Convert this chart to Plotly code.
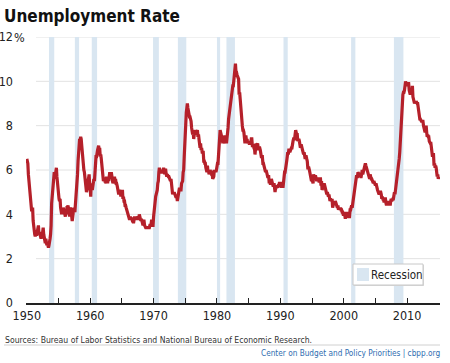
import pandas as pd
import plotly.graph_objects as go

# ---------------- data ----------------
rate_1950s = [6.5, 6.4, 6.3, 5.8, 5.5, 5.4, 5.0, 4.5, 4.4, 4.2, 4.2, 4.3,
              3.7, 3.4, 3.4, 3.1, 3.0, 3.2, 3.1, 3.1, 3.3, 3.5, 3.5, 3.1,
              3.2, 3.1, 2.9, 2.9, 3.0, 3.0, 3.2, 3.4, 3.1, 3.0, 2.8, 2.7,
              2.9, 2.6, 2.6, 2.7, 2.5, 2.5, 2.6, 2.7, 2.9, 3.1, 3.5, 4.5,
              4.9, 5.2, 5.7, 5.9, 5.9, 5.6, 5.8, 6.0, 6.1, 5.7, 5.3, 5.0,
              4.9, 4.7, 4.6, 4.7, 4.3, 4.2, 4.0, 4.2, 4.1, 4.3, 4.2, 4.2,
              4.0, 3.9, 4.2, 4.0, 4.3, 4.3, 4.4, 4.1, 3.9, 3.9, 4.3, 4.2,
              4.2, 3.9, 3.7, 3.9, 4.1, 4.3, 4.2, 4.1, 4.4, 4.5, 5.1, 5.2,
              5.8, 6.4, 6.7, 7.4, 7.4, 7.3, 7.5, 7.4, 7.1, 6.7, 6.2, 6.2,
              6.0, 5.9, 5.6, 5.2, 5.1, 5.0, 5.1, 5.2, 5.5, 5.7, 5.8, 5.3]
rate_1960s = [5.2, 4.8, 5.4, 5.2, 5.1, 5.4, 5.5, 5.6, 5.5, 6.1, 6.1, 6.6,
              6.6, 6.9, 6.9, 7.0, 7.1, 6.9, 7.0, 6.6, 6.7, 6.5, 6.1, 6.0,
              5.8, 5.5, 5.6, 5.6, 5.5, 5.5, 5.4, 5.7, 5.6, 5.4, 5.7, 5.5,
              5.7, 5.9, 5.7, 5.7, 5.9, 5.6, 5.6, 5.4, 5.5, 5.5, 5.7, 5.5,
              5.6, 5.4, 5.4, 5.3, 5.1, 5.2, 4.9, 5.0, 5.1, 5.1, 4.8, 5.0,
              4.9, 5.1, 4.7, 4.8, 4.6, 4.6, 4.4, 4.4, 4.3, 4.2, 4.1, 4.0,
              4.0, 3.8, 3.8, 3.8, 3.9, 3.8, 3.8, 3.8, 3.7, 3.7, 3.6, 3.8,
              3.9, 3.8, 3.8, 3.8, 3.8, 3.9, 3.8, 3.8, 3.8, 4.0, 3.9, 3.8,
              3.7, 3.8, 3.7, 3.5, 3.5, 3.7, 3.7, 3.5, 3.4, 3.4, 3.4, 3.4,
              3.4, 3.4, 3.4, 3.4, 3.4, 3.5, 3.5, 3.5, 3.7, 3.7, 3.5, 3.5]
rate_1970s = [3.9, 4.2, 4.4, 4.6, 4.8, 4.9, 5.0, 5.1, 5.4, 5.5, 5.9, 6.1,
              5.9, 5.9, 6.0, 5.9, 5.9, 5.9, 6.0, 6.1, 6.0, 5.8, 6.0, 6.0,
              5.8, 5.7, 5.8, 5.7, 5.7, 5.7, 5.6, 5.6, 5.5, 5.6, 5.3, 5.2,
              4.9, 5.0, 4.9, 5.0, 4.9, 4.9, 4.8, 4.8, 4.8, 4.6, 4.8, 4.9,
              5.1, 5.2, 5.1, 5.1, 5.1, 5.4, 5.5, 5.5, 5.9, 6.0, 6.6, 7.2,
              8.1, 8.1, 8.6, 8.8, 9.0, 8.8, 8.6, 8.4, 8.4, 8.4, 8.3, 8.2,
              7.9, 7.7, 7.6, 7.7, 7.4, 7.6, 7.8, 7.8, 7.6, 7.7, 7.8, 7.8,
              7.5, 7.6, 7.4, 7.2, 7.0, 7.2, 6.9, 7.0, 6.8, 6.8, 6.8, 6.4,
              6.4, 6.3, 6.3, 6.1, 6.0, 5.9, 6.2, 5.9, 6.0, 5.8, 5.9, 6.0,
              5.9, 5.9, 5.8, 5.8, 5.6, 5.7, 5.7, 6.0, 5.9, 6.0, 5.9, 6.0]
rate_1980s = [6.3, 6.3, 6.3, 6.9, 7.5, 7.6, 7.8, 7.7, 7.5, 7.5, 7.5, 7.2,
              7.5, 7.4, 7.4, 7.2, 7.5, 7.5, 7.2, 7.4, 7.6, 7.9, 8.3, 8.5,
              8.6, 8.9, 9.0, 9.3, 9.4, 9.6, 9.8, 9.8, 10.1, 10.4, 10.8, 10.8,
              10.4, 10.4, 10.3, 10.2, 10.1, 10.1, 9.4, 9.5, 9.2, 8.8, 8.5, 8.3,
              8.0, 7.8, 7.8, 7.7, 7.4, 7.2, 7.5, 7.5, 7.3, 7.4, 7.2, 7.3,
              7.3, 7.2, 7.2, 7.3, 7.2, 7.4, 7.4, 7.1, 7.1, 7.1, 7.0, 7.0,
              6.7, 7.2, 7.2, 7.1, 7.2, 7.2, 7.0, 6.9, 7.0, 7.0, 6.9, 6.6,
              6.6, 6.6, 6.6, 6.3, 6.3, 6.2, 6.1, 6.0, 5.9, 6.0, 5.8, 5.7,
              5.7, 5.7, 5.7, 5.4, 5.6, 5.4, 5.4, 5.6, 5.4, 5.4, 5.3, 5.3,
              5.4, 5.2, 5.0, 5.2, 5.2, 5.3, 5.2, 5.2, 5.3, 5.3, 5.4, 5.4]
rate_1990s = [5.4, 5.3, 5.2, 5.4, 5.4, 5.2, 5.5, 5.7, 5.9, 5.9, 6.2, 6.3,
              6.4, 6.6, 6.8, 6.7, 6.9, 6.9, 6.8, 6.9, 6.9, 7.0, 7.0, 7.3,
              7.3, 7.4, 7.4, 7.4, 7.6, 7.8, 7.7, 7.6, 7.6, 7.3, 7.4, 7.4,
              7.3, 7.1, 7.0, 7.1, 7.1, 7.0, 6.9, 6.8, 6.7, 6.8, 6.6, 6.5,
              6.6, 6.6, 6.5, 6.4, 6.1, 6.1, 6.1, 6.0, 5.9, 5.8, 5.6, 5.5,
              5.6, 5.4, 5.4, 5.8, 5.6, 5.6, 5.7, 5.7, 5.6, 5.5, 5.6, 5.6,
              5.6, 5.5, 5.5, 5.6, 5.6, 5.3, 5.5, 5.1, 5.2, 5.2, 5.4, 5.4,
              5.3, 5.2, 5.2, 5.1, 4.9, 5.0, 4.9, 4.8, 4.9, 4.7, 4.6, 4.7,
              4.6, 4.6, 4.7, 4.3, 4.4, 4.5, 4.5, 4.5, 4.6, 4.5, 4.4, 4.4,
              4.3, 4.4, 4.2, 4.3, 4.2, 4.3, 4.3, 4.2, 4.2, 4.1, 4.1, 4.0]
rate_2000s = [4.0, 4.1, 4.0, 3.8, 4.0, 4.0, 4.0, 4.1, 3.9, 3.9, 3.9, 3.9,
              4.2, 4.2, 4.3, 4.4, 4.3, 4.5, 4.6, 4.9, 5.0, 5.3, 5.5, 5.7,
              5.7, 5.7, 5.7, 5.9, 5.8, 5.8, 5.8, 5.7, 5.7, 5.7, 5.9, 6.0,
              5.8, 5.9, 5.9, 6.0, 6.1, 6.3, 6.2, 6.1, 6.1, 6.0, 5.8, 5.7,
              5.7, 5.6, 5.8, 5.6, 5.6, 5.6, 5.5, 5.4, 5.4, 5.5, 5.4, 5.4,
              5.3, 5.4, 5.2, 5.2, 5.1, 5.0, 5.0, 4.9, 5.0, 5.0, 5.0, 4.9,
              4.7, 4.8, 4.7, 4.7, 4.6, 4.6, 4.7, 4.7, 4.5, 4.4, 4.5, 4.4,
              4.6, 4.5, 4.4, 4.5, 4.4, 4.6, 4.7, 4.6, 4.7, 4.7, 4.7, 5.0,
              5.0, 4.9, 5.1, 5.0, 5.4, 5.6, 5.8, 6.1, 6.1, 6.5, 6.8, 7.3,
              7.8, 8.3, 8.7, 9.0, 9.4, 9.5, 9.5, 9.6, 9.8, 10.0, 9.9, 9.9]
rate_2010s = [9.8, 9.8, 9.9, 9.9, 9.6, 9.4, 9.4, 9.5, 9.5, 9.4, 9.8, 9.3,
              9.1, 9.0, 9.0, 9.1, 9.0, 9.1, 9.0, 9.0, 9.0, 8.8, 8.6, 8.5,
              8.3, 8.3, 8.2, 8.2, 8.2, 8.2, 8.2, 8.0, 7.8, 7.8, 7.7, 7.9,
              8.0, 7.7, 7.5, 7.6, 7.5, 7.5, 7.3, 7.2, 7.2, 7.2, 6.9, 6.7,
              6.6, 6.7, 6.7, 6.2, 6.3, 6.1, 6.2, 6.1, 5.9, 5.7, 5.8, 5.6,
              5.7]

recession_start = ["1953-07-01", "1957-08-01", "1960-04-01", "1969-12-01", "1973-11-01",
                   "1980-01-01", "1981-07-01", "1990-07-01", "2001-03-01", "2007-12-01"]
recession_end = ["1954-05-01", "1958-04-01", "1961-02-01", "1970-11-01", "1975-03-01",
                 "1980-07-01", "1982-11-01", "1991-03-01", "2001-11-01", "2009-06-01"]

y_tick_values = [0, 2, 4, 6, 8, 10, 12]
y_tick_labels = ["0", "2", "4", "6", "8", "10", "12"]
x_tick_years = [1950, 1955, 1960, 1965, 1970, 1975, 1980, 1985, 1990, 1995, 2000, 2005, 2010]
x_tick_labels = ["1950", "", "1960", "", "1970", "", "1980", "", "1990", "", "2000", "", "2010"]

rate = rate_1950s + rate_1960s + rate_1970s + rate_1980s + rate_1990s + rate_2000s + rate_2010s
dates = pd.date_range("1950-01-01", periods=len(rate), freq="MS")

# ---------------- layout helpers ----------------
W, H = 450, 363
L, R, T, B = 26, 10, 37, 60
PW, PH = W - L - R, H - T - B


def px(x):
    return (x - L) / PW


def py(y):
    return (H - B - y) / PH


FONT = "DejaVu Sans"
BAND = "#d9e6f1"
LINE = "#b5202a"


def f(size, color="#222", weight="normal"):
    return dict(family=FONT, size=size, color=color, weight=weight)


def cond(t):
    return f"<span style='font-stretch:condensed'>{t}</span>" if t else t


fig = go.Figure()
fig.add_trace(go.Scatter(x=dates, y=rate, mode="lines",
                         line=dict(color=LINE, width=3.2), showlegend=False,
                         hoverinfo="skip"))

shapes = []
for v in y_tick_values[1:]:
    shapes.append(dict(type="line", xref="paper", yref="y", x0=px(36), x1=1,
                       y0=v, y1=v, line=dict(color="#e2e2e2", width=1), layer="below"))
for s, e in zip(recession_start, recession_end):
    shapes.append(dict(type="rect", xref="x", yref="y", x0=s, x1=e, y0=0, y1=12,
                       fillcolor=BAND, line=dict(width=0), layer="below"))
# legend box
shapes.append(dict(type="rect", xref="paper", yref="paper", x0=px(354), x1=px(424),
                   y0=py(286), y1=py(265), fillcolor="#d8d8d8", line=dict(width=0)))
shapes.append(dict(type="rect", xref="paper", yref="paper", x0=px(353), x1=px(423),
                   y0=py(285), y1=py(264), fillcolor="white",
                   line=dict(color="#c8c8c8", width=1)))
shapes.append(dict(type="rect", xref="paper", yref="paper", x0=px(357), x1=px(369),
                   y0=py(281), y1=py(268), fillcolor=BAND, line=dict(width=0)))
shapes.append(dict(type="line", xref="paper", yref="paper", x0=px(4), x1=px(440),
                   y0=py(345), y1=py(345), line=dict(color="#d0d0d0", width=1)))

annotations = [
    dict(text=cond("Recession"), xref="paper", yref="paper", x=px(369), y=py(274.5),
         xanchor="left", yanchor="middle", showarrow=False, font=f(11.5)),
    dict(text=cond("%"), xref="paper", yref="y", x=px(12), y=12, xanchor="left",
         yanchor="middle", showarrow=False, font=f(12.5)),
    dict(text=cond("Unemployment Rate"), xref="paper", yref="paper", x=px(2), y=py(4),
         xanchor="left", yanchor="top", showarrow=False,
         font=f(17, "#111", "bold")),
    dict(text=cond("Sources: Bureau of Labor Statistics and National Bureau of Economic Research."),
         xref="paper", yref="paper", x=px(3), y=py(340), xanchor="left", yanchor="middle",
         showarrow=False, font=f(8.6, "#333")),
    dict(text=cond("Center on Budget and Policy Priorities | cbpp.org"),
         xref="paper", yref="paper", x=px(442), y=py(353), xanchor="right", yanchor="middle",
         showarrow=False, font=f(8.2, "#2f6db0")),
]

fig.update_layout(
    width=W, height=H,
    margin=dict(l=L, r=R, t=T, b=B, autoexpand=False),
    paper_bgcolor="white", plot_bgcolor="white",
    showlegend=False, hovermode=False,
    shapes=shapes, annotations=annotations,
    xaxis=dict(
        range=["1949-11-15", "2015-03-10"],
        tickmode="array",
        tickvals=[f"{y}-01-01" for y in x_tick_years],
        ticktext=[cond(t) for t in x_tick_labels],
        ticks="inside", ticklen=5, tickwidth=1.3, tickcolor="#222",
        showline=True, linecolor="#222", linewidth=1.6,
        showgrid=False, zeroline=False, automargin=False,
        tickfont=f(12.5),
    ),
    yaxis=dict(
        range=[0, 12],
        tickmode="array", tickvals=y_tick_values,
        ticktext=[cond(t) for t in y_tick_labels],
        showgrid=False, zeroline=False, showline=False, ticks="",
        ticklabelstandoff=12, automargin=False,
        tickfont=f(12.5),
    ),
)

fig.write_html("out.html", config={"displayModeBar": False},
               post_script="document.body.style.margin='0';")
